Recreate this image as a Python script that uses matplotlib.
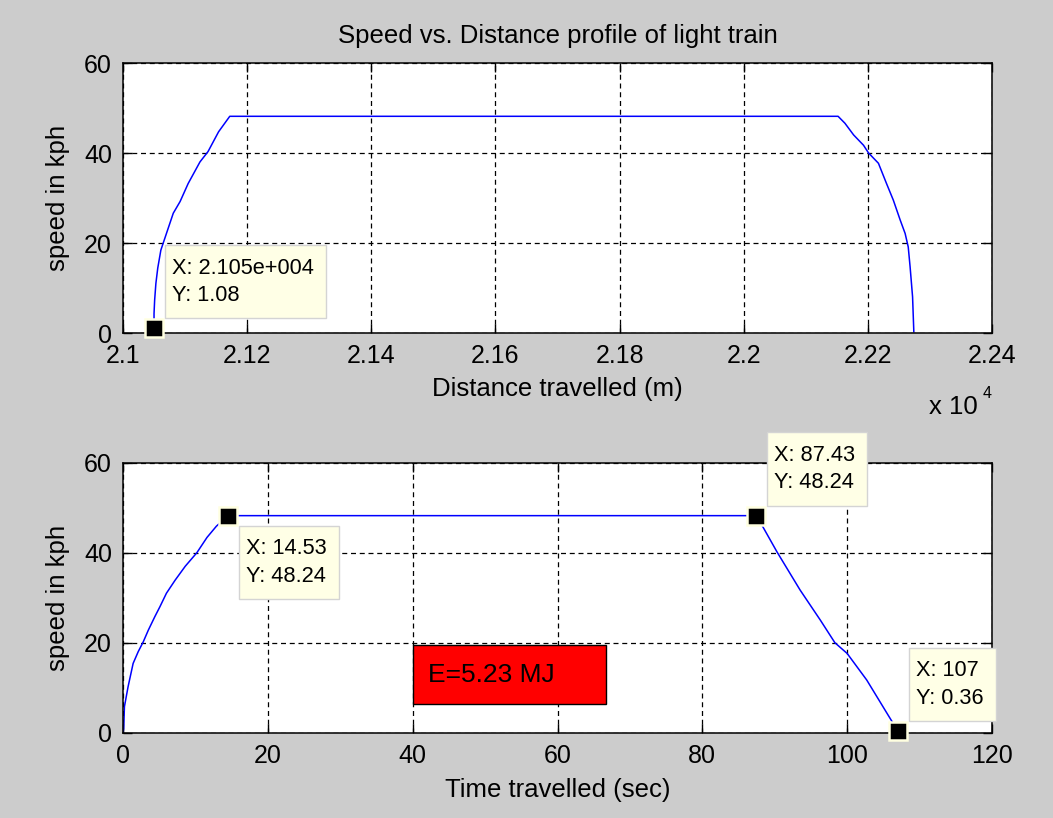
import matplotlib
matplotlib.use('Agg')
import matplotlib.pyplot as plt
from matplotlib.patches import Rectangle
from matplotlib.transforms import IdentityTransform

plt.rcParams['font.family'] = ['Liberation Sans', 'DejaVu Sans']

# speed vs distance run (m, kph)
dist_m = [21050, 21050, 21051, 21053, 21056, 21061, 21070, 21081, 21092,
          21105, 21124, 21137, 21154, 21172, 22152, 22163, 22177, 22193,
          22201, 22217, 22230, 22241, 22252, 22260, 22265, 22268, 22272, 22274]
speed_dist_kph = [1.08, 4.4, 7.4, 11.1, 14.5, 18.5, 22.2, 26.7, 29.3,
                  33.3, 38.1, 40.4, 44.8, 48.24, 48.24, 46.7, 44.1, 41.8,
                  40.1, 37.8, 33.3, 29.6, 25.2, 22.2, 19.2, 14.8, 8.1, 0.36]

# speed vs time (s, kph)
time_s = [0, 0.1, 0.2, 0.7, 1.4, 2.1, 2.8, 3.5, 4.4, 5.1, 6.0, 7.2, 8.6,
          10.2, 11.6, 12.9, 14.53, 87.43, 88.2, 90.3, 93.5, 96.3, 98.3,
          100.0, 102.7, 105.5, 107]
speed_time_kph = [0, 1.0, 5.8, 10.2, 15.4, 18.0, 20.2, 22.8, 25.8, 28.0,
                  31.0, 33.9, 37.0, 40.0, 43.4, 45.9, 48.24, 48.24, 46.2,
                  40.2, 31.7, 25.0, 20.0, 17.6, 11.7, 4.3, 0.36]

dist_ticks = [21000, 21200, 21400, 21600, 21800, 22000, 22200, 22400]
dist_tick_labels = ['2.1', '2.12', '2.14', '2.16', '2.18', '2.2', '2.22', '2.24']
time_ticks = [0, 20, 40, 60, 80, 100, 120]
speed_ticks = [0, 20, 40, 60]

# data cursors: x, y, text, box below the point?
dist_tips = [(21050, 1.08, 'X: 2.105e+004\nY: 1.08', False)]
time_tips = [(14.53, 48.24, 'X: 14.53\nY: 48.24', True),
             (87.43, 48.24, 'X: 87.43\nY: 48.24', False),
             (107, 0.36, 'X: 107\nY: 0.36', False)]

energy_text = 'E=5.23 MJ'

TICK_FS = 18
LABEL_FS = 18.5
TIP_FS = 15.7
TIP_PAD_Y = 12.5

tip_texts = []


def style_axes(ax):
    ax.set_facecolor('white')
    ax.set_ylim(0, 60)
    ax.set_yticks(speed_ticks)
    ax.tick_params(direction='in', length=6.5, width=1, top=True, right=True,
                   labelsize=TICK_FS, pad=8)
    ax.grid(True, color='black', linestyle=(0, (4, 3)), linewidth=0.9)
    for s in ax.spines.values():
        s.set_linewidth(1.1)
    ax.set_ylabel('speed in kph', fontsize=LABEL_FS, labelpad=10)


def datatip(ax, x, y, text, below):
    ax.plot(x, y, 's', ms=12.5, mfc='black', mec='#FFFFE1', mew=1.8,
            clip_on=False, zorder=5)
    dy = -(10 + TIP_PAD_Y) if below else (10 + TIP_PAD_Y)
    t = ax.annotate(text, (x, y), xytext=(18, dy), textcoords='offset pixels',
                    ha='left', va='top' if below else 'bottom', fontsize=TIP_FS,
                    linespacing=1.4, annotation_clip=False, zorder=7)
    tip_texts.append((ax, t))


def tip_boxes(fig):
    # boxes drawn behind each data cursor text, sized from the rendered text
    fig.canvas.draw()
    renderer = fig.canvas.get_renderer()
    for ax, t in tip_texts:
        ext = t.get_window_extent(renderer)
        ax.add_patch(Rectangle((ext.x0 - 7, ext.y0 - TIP_PAD_Y), ext.width + 19,
                               ext.height + 2 * TIP_PAD_Y,
                               transform=IdentityTransform(),
                               facecolor='#FFFFE6', edgecolor='#D4D4D4', lw=1,
                               clip_on=False, zorder=6))


def distance_chart(ax):
    ax.plot(dist_m, speed_dist_kph, color='#0000FF', lw=1.1)
    style_axes(ax)
    ax.set_xlim(21000, 22400)
    ax.set_xticks(dist_ticks)
    ax.set_xticklabels(dist_tick_labels)
    ax.set_xlabel('Distance travelled (m)', fontsize=LABEL_FS, labelpad=6)
    ax.set_title('Speed vs. Distance profile of light train', fontsize=LABEL_FS, pad=15)
    for x, y, txt, below in dist_tips:
        datatip(ax, x, y, txt, below)


def time_chart(ax):
    ax.plot(time_s, speed_time_kph, color='#0000FF', lw=1.1)
    style_axes(ax)
    ax.set_xlim(0, 120)
    ax.set_xticks(time_ticks)
    ax.set_xlabel('Time travelled (sec)', fontsize=LABEL_FS, labelpad=7)
    ax.add_patch(Rectangle((0.334, 0.106), 0.222, 0.218, transform=ax.transAxes,
                           facecolor='#FF0000', edgecolor='black', lw=1, zorder=4))
    ax.text(0.351, 0.215, energy_text, transform=ax.transAxes, fontsize=19,
            ha='left', va='center', zorder=5)
    for x, y, txt, below in time_tips:
        datatip(ax, x, y, txt, below)


fig = plt.figure(figsize=(10.53, 8.18), dpi=100, facecolor='#CCCCCC')
ax1 = fig.add_axes([0.1168, 0.5925, 0.8253, 0.330])
ax2 = fig.add_axes([0.1168, 0.1043, 0.8253, 0.330])
distance_chart(ax1)
time_chart(ax2)

# exponent for the distance axis
fig.text(929 / 1053, 1 - 414 / 818, 'x 10', fontsize=LABEL_FS, ha='left', va='baseline')
fig.text(983 / 1053, 1 - 398 / 818, '4', fontsize=11.5, ha='left', va='baseline')

tip_boxes(fig)

fig.savefig('out.png', dpi=100, facecolor=fig.get_facecolor())
